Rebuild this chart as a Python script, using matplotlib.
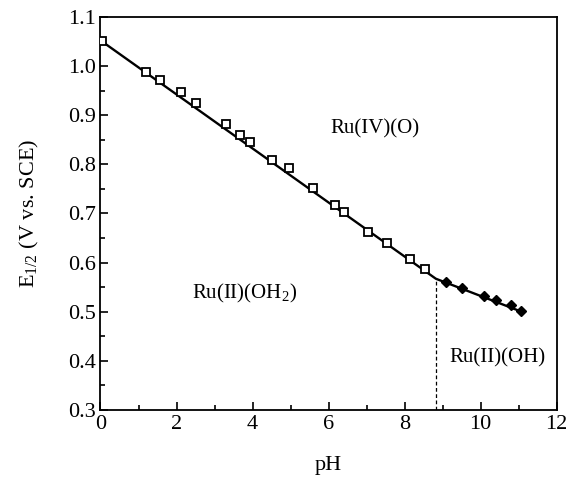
import matplotlib
matplotlib.use("Agg")
import matplotlib.pyplot as plt
from matplotlib.ticker import MultipleLocator, FormatStrFormatter

plt.rcParams["font.family"] = "Liberation Serif"
plt.rcParams["mathtext.fontset"] = "custom"
plt.rcParams["mathtext.rm"] = "Liberation Serif"

# open squares: Ru(IV)(O)/Ru(II)(OH2) couple
ph_acid = [0.05, 1.21, 1.56, 2.11, 2.52, 3.31, 3.68, 3.94, 4.50, 4.96,
           5.60, 6.16, 6.40, 7.03, 7.54, 8.13, 8.54]
e_acid = [1.050, 0.987, 0.971, 0.947, 0.925, 0.882, 0.859, 0.845, 0.808, 0.793,
          0.751, 0.717, 0.703, 0.663, 0.639, 0.607, 0.587]

# filled diamonds: Ru(IV)(O)/Ru(II)(OH) couple
ph_base = [9.10, 9.52, 10.09, 10.39, 10.81, 11.07]
e_base = [0.561, 0.549, 0.532, 0.524, 0.513, 0.501]

# fitted line and pKa boundary
fit_ph = [0.0, 8.82, 11.07]
fit_e = [1.052, 0.567, 0.500]
pka = 8.82
pka_e = 0.567

fig = plt.figure(figsize=(5.71, 4.8), dpi=100)
ax = fig.add_axes([0.176, 0.146, 0.799, 0.819])

ax.plot(fit_ph, fit_e, color="black", linewidth=1.7, zorder=2)
ax.plot(ph_acid, e_acid, linestyle="none", marker="s", markersize=5.5,
        markerfacecolor="white", markeredgecolor="black", markeredgewidth=1.3, zorder=3)
ax.plot(ph_base, e_base, linestyle="none", marker="D", markersize=5,
        color="black", zorder=3)
ax.plot([pka, pka], [0.3, pka_e], color="black", linestyle=(0, (3, 2)), linewidth=0.9)

ax.text(7.21, 0.871, "Ru(IV)(O)", fontsize=15, ha="center", va="center")
ax.text(3.79, 0.537, "Ru(II)(OH$_2$)", fontsize=15, ha="center", va="center")
ax.text(10.45, 0.405, "Ru(II)(OH)", fontsize=15, ha="center", va="center")

ax.set_xlim(0, 12)
ax.set_ylim(0.3, 1.1)
ax.xaxis.set_major_locator(MultipleLocator(2))
ax.xaxis.set_minor_locator(MultipleLocator(1))
ax.yaxis.set_major_locator(MultipleLocator(0.1))
ax.yaxis.set_minor_locator(MultipleLocator(0.05))
ax.yaxis.set_major_formatter(FormatStrFormatter("%.1f"))
ax.tick_params(which="both", direction="in", top=False, right=False,
               labelsize=16, width=1.2)
ax.tick_params(which="major", length=6)
ax.tick_params(which="minor", length=3.5)
for spine in ax.spines.values():
    spine.set_linewidth(1.3)

ax.set_xlabel("pH", fontsize=16, labelpad=16)
ax.set_ylabel("E$_{1/2}$ (V vs. SCE)", fontsize=16, labelpad=19)

fig.savefig("out.png", dpi=100)
